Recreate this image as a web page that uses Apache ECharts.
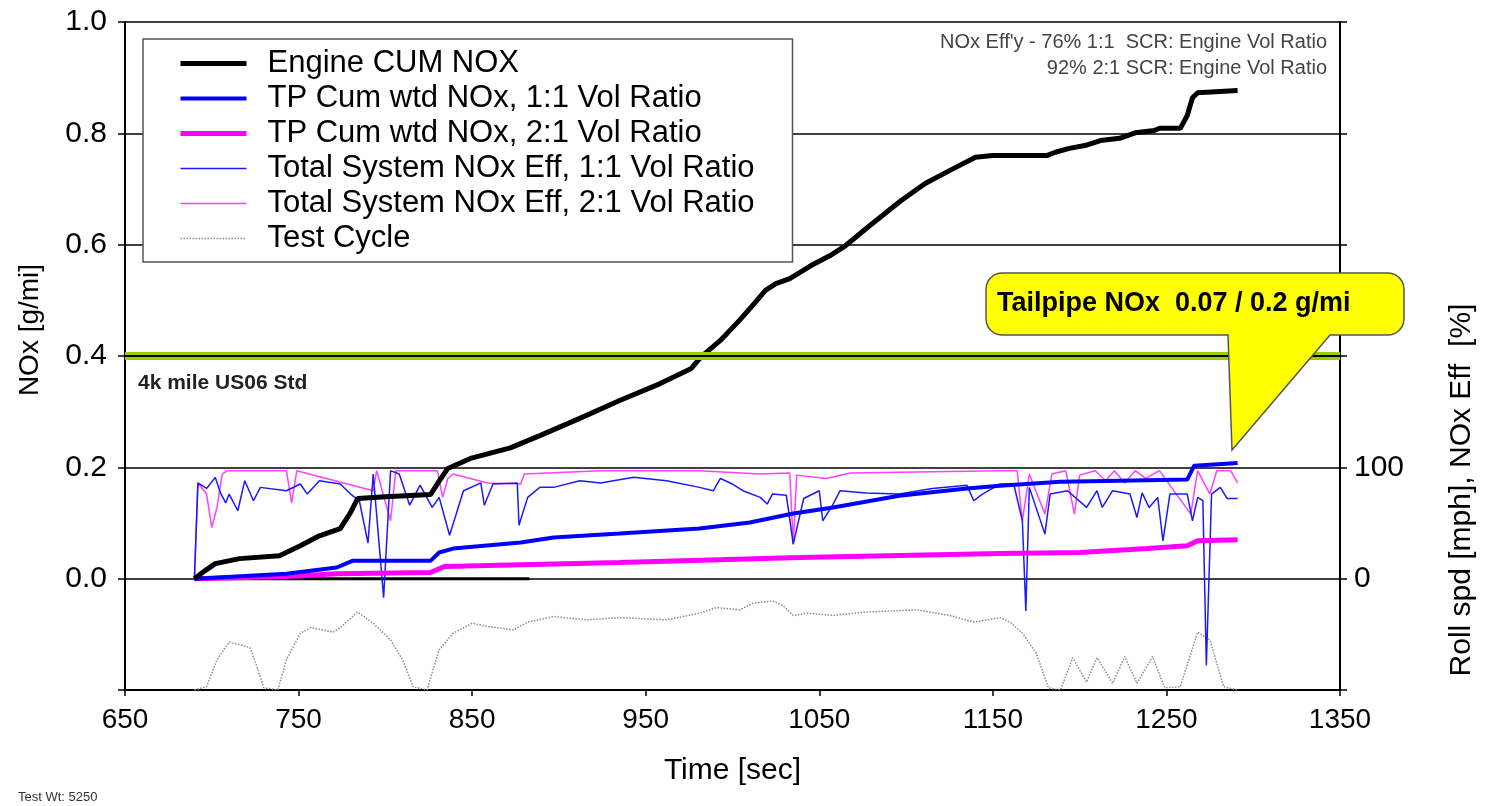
<!DOCTYPE html>
<html>
<head>
<meta charset="utf-8">
<script src="https://cdn.jsdelivr.net/npm/echarts@6/dist/echarts.min.js"></script>
<style>
  body { margin: 0; background: #fff; }
  #main { width: 1488px; height: 806px; }
</style>
</head>
<body>
<div id="main"></div>
<script>
// data: [time sec, value]
var engineCumNox = [[690,0],[696,0.014],[702,0.027],[716,0.036],[739,0.041],[751,0.059],[762,0.077],[774,0.090],[780,0.119],[784,0.144],[800,0.147],[826,0.151],[832,0.180],[836,0.198],[849,0.216],[872,0.235],[889,0.257],[912,0.288],[935,0.320],[958,0.350],[976,0.377],[982,0.399],[993,0.428],[1004,0.464],[1013,0.496],[1019,0.518],[1025,0.530],[1033,0.539],[1045,0.562],[1056,0.580],[1065,0.598],[1079,0.634],[1097,0.679],[1111,0.710],[1125,0.733],[1140,0.757],[1150,0.760],[1181,0.760],[1186,0.766],[1194,0.773],[1203,0.778],[1212,0.787],[1223,0.791],[1232,0.801],[1243,0.805],[1246,0.809],[1258,0.809],[1262,0.832],[1265,0.864],[1268,0.873],[1291,0.877]];

var tpCum11 = [[690,0],[743,0.009],[772,0.020],[781,0.032],[826,0.032],[831,0.047],[839,0.054],[878,0.065],[897,0.074],[935,0.081],[981,0.090],[1010,0.101],[1035,0.117],[1058,0.128],[1096,0.149],[1135,0.162],[1154,0.167],[1189,0.174],[1223,0.176],[1262,0.178],[1266,0.203],[1291,0.208]];

var tpCum21 = [[690,0],[743,0.004],[772,0.009],[826,0.011],[834,0.022],[935,0.029],[1039,0.038],[1154,0.045],[1200,0.047],[1239,0.054],[1262,0.059],[1268,0.068],[1291,0.070]];

// efficiency in %
var eff11 = [[690,0],[692,86],[697,81],[702,91],[705,77],[708,68],[710,76],[715,61],[719,88],[724,70],[728,82],[743,79],[751,85],[755,76],[762,88],[774,85],[780,76],[785,70],[790,32],[793,94],[799,-17],[803,97],[808,94],[814,66],[820,84],[827,64],[831,73],[837,39],[845,79],[855,86],[857,66],[862,85],[876,86],[877,48],[882,73],[889,82],[897,82],[912,88],[924,86],[943,91],[962,88],[981,82],[989,79],[993,90],[1000,85],[1006,79],[1016,73],[1020,67],[1023,76],[1031,75],[1035,31],[1041,72],[1050,79],[1052,52],[1058,67],[1062,79],[1077,77],[1096,76],[1115,81],[1135,84],[1139,70],[1144,76],[1154,85],[1162,85],[1167,52],[1169,-29],[1171,82],[1180,40],[1183,76],[1193,79],[1204,64],[1210,79],[1213,64],[1219,79],[1229,76],[1233,55],[1236,77],[1240,64],[1245,73],[1248,34],[1252,76],[1262,76],[1265,52],[1268,73],[1271,70],[1273,-78],[1276,76],[1281,82],[1285,72],[1291,72]];

var eff21 = [[690,0],[692,86],[697,76],[700,46],[703,64],[706,94],[709,97],[743,97],[746,68],[749,97],[793,79],[795,97],[803,52],[806,97],[830,97],[833,73],[836,90],[839,94],[859,86],[878,85],[880,94],[924,97],[981,97],[1016,94],[1033,95],[1035,31],[1037,93],[1054,90],[1068,95],[1154,97],[1164,97],[1167,52],[1171,94],[1180,58],[1184,94],[1192,97],[1197,58],[1200,93],[1209,97],[1215,88],[1220,97],[1226,86],[1232,97],[1238,90],[1246,97],[1264,58],[1268,97],[1275,76],[1279,97],[1287,97],[1291,86]];

// roll speed in mph
var testCycle = [[690,0],[697,3],[703,27],[710,43],[718,40],[722,38],[726,21],[730,2],[738,0],[743,27],[751,51],[757,56],[770,52],[774,56],[784,70],[793,60],[803,45],[810,27],[816,3],[824,0],[831,36],[839,51],[850,60],[859,57],[874,54],[882,61],[897,66],[916,63],[935,65],[962,63],[981,69],[991,74],[1004,72],[1012,78],[1023,80],[1029,76],[1035,67],[1043,69],[1058,67],[1077,70],[1106,72],[1125,67],[1139,61],[1154,65],[1160,61],[1167,51],[1175,33],[1182,2],[1189,0],[1196,29],[1204,7],[1210,29],[1219,6],[1226,30],[1233,6],[1242,30],[1249,2],[1258,3],[1268,52],[1275,45],[1283,3],[1291,0]];

var zeroRef = [[690,0],[883,0]];
var us06Std = 0.4;
var leftTickLabels = [0, 0.2, 0.4, 0.6, 0.8, 1.0];
var rightTickLabels = [0, 100];

var FONT = '"Liberation Sans", Arial, sans-serif';

var chart = echarts.init(document.getElementById('main'));

// callout outline: rounded box with a pointer
function calloutPoints(x, y, w, h, r, pr, tip, pl) {
  var pts = [];
  function arc(cx, cy, a0, a1) {
    for (var i = 0; i <= 6; i++) {
      var a = (a0 + (a1 - a0) * i / 6) * Math.PI / 180;
      pts.push([cx + r * Math.cos(a), cy + r * Math.sin(a)]);
    }
  }
  arc(x + w - r, y + r, -90, 0);
  arc(x + w - r, y + h - r, 0, 90);
  pts.push([pr, y + h], tip, [pl, y + h]);
  arc(x + r, y + h - r, 90, 180);
  arc(x + r, y + r, 180, 270);
  return pts;
}

option = {
  animation: false,
  backgroundColor: '#fff',
  textStyle: { fontFamily: FONT },
  grid: { left: 125, right: 148, top: 22, bottom: 116 },
  legend: {
    left: 143,
    top: 39,
    orient: 'vertical',
    padding: [9, 15, 8, 35],
    backgroundColor: '#fff',
    borderColor: '#555',
    borderWidth: 1.5,
    itemWidth: 66,
    itemHeight: 14,
    itemGap: 4,
    itemStyle: { opacity: 0 },
    lineStyle: { width: 'inherit' },
    textStyle: { fontSize: 31, lineHeight: 31, color: '#000', fontFamily: FONT, width: 510, padding: [0, 0, 0, 16] },
    data: ['Engine CUM NOX', 'TP Cum wtd NOx, 1:1 Vol Ratio', 'TP Cum wtd NOx, 2:1 Vol Ratio',
      'Total System NOx Eff, 1:1 Vol Ratio', 'Total System NOx Eff, 2:1 Vol Ratio', 'Test Cycle']
  },
  xAxis: {
    type: 'value',
    min: 650,
    max: 1350,
    interval: 100,
    name: 'Time [sec]',
    nameLocation: 'middle',
    nameGap: 66,
    nameTextStyle: { fontSize: 30, color: '#000' },
    axisLine: { onZero: false, lineStyle: { color: '#000', width: 2 } },
    axisTick: { length: 6, lineStyle: { color: '#000', width: 1.5 } },
    axisLabel: { fontSize: 28, color: '#000', margin: 16, formatter: function (v) { return String(v); } },
    splitLine: { show: false }
  },
  yAxis: [
    {
      type: 'value',
      min: -0.2,
      max: 1.0,
      interval: 0.2,
      axisLine: { show: true, lineStyle: { color: '#000', width: 2 } },
      axisTick: { show: true, length: 7, lineStyle: { color: '#000', width: 1.5 } },
      axisLabel: {
        fontSize: 30, color: '#000', margin: 18,
        formatter: function (v) {
          var hit = leftTickLabels.some(function (t) { return Math.abs(t - v) < 1e-6; });
          return hit ? v.toFixed(1) : '';
        }
      },
      splitLine: { show: true, lineStyle: { color: '#000', width: 1.5 } }
    },
    {
      type: 'value',
      position: 'right',
      min: -100,
      max: 500,
      interval: 100,
      axisLine: { show: true, lineStyle: { color: '#000', width: 2 } },
      axisTick: { show: true, length: 7, lineStyle: { color: '#000', width: 1.5 } },
      axisLabel: {
        fontSize: 30, color: '#000', margin: 14,
        formatter: function (v) { return rightTickLabels.indexOf(v) >= 0 ? String(v) : ''; }
      },
      splitLine: { show: false }
    },
    { type: 'value', min: 0, max: 600, show: false }
  ],
  series: [
    {
      name: 'zero',
      type: 'line',
      data: zeroRef,
      symbol: 'none',
      lineStyle: { color: '#000', width: 3 },
      silent: true,
      markLine: {
        silent: true,
        symbol: 'none',
        label: { show: false },
        data: [
          { yAxis: us06Std, lineStyle: { color: '#9acd00', width: 8, type: 'solid' } },
          { yAxis: us06Std, lineStyle: { color: '#000', width: 2, type: 'solid' } }
        ]
      }
    },
    {
      name: 'Test Cycle',
      type: 'line',
      yAxisIndex: 2,
      data: testCycle,
      symbol: 'none',
      lineStyle: { color: '#8c8c8c', width: 1.5, type: 'dotted' },
      itemStyle: { color: '#8c8c8c' }
    },
    {
      name: 'Total System NOx Eff, 2:1 Vol Ratio',
      type: 'line',
      yAxisIndex: 1,
      data: eff21,
      symbol: 'none',
      lineStyle: { color: '#ff40ff', width: 1.5 },
      itemStyle: { color: '#ff40ff' }
    },
    {
      name: 'Total System NOx Eff, 1:1 Vol Ratio',
      type: 'line',
      yAxisIndex: 1,
      data: eff11,
      symbol: 'none',
      lineStyle: { color: '#1a1aff', width: 1.5 },
      itemStyle: { color: '#1a1aff' }
    },
    {
      name: 'TP Cum wtd NOx, 2:1 Vol Ratio',
      type: 'line',
      data: tpCum21,
      symbol: 'none',
      lineStyle: { color: '#ff00ff', width: 5 },
      itemStyle: { color: '#ff00ff' }
    },
    {
      name: 'TP Cum wtd NOx, 1:1 Vol Ratio',
      type: 'line',
      data: tpCum11,
      symbol: 'none',
      lineStyle: { color: '#0000ff', width: 4 },
      itemStyle: { color: '#0000ff' }
    },
    {
      name: 'Engine CUM NOX',
      type: 'line',
      data: engineCumNox,
      symbol: 'none',
      lineStyle: { color: '#000', width: 5 },
      itemStyle: { color: '#000' }
    }
  ],
  graphic: [
    {
      type: 'text', x: 30, y: 330, rotation: Math.PI / 2,
      style: { text: 'NOx [g/mi]', font: '28px ' + FONT, fill: '#000', align: 'center', verticalAlign: 'middle' }
    },
    {
      type: 'text', x: 1462, y: 490, rotation: Math.PI / 2,
      style: { text: 'Roll spd [mph], NOx Eff  [%]', font: '30px ' + FONT, fill: '#000', align: 'center', verticalAlign: 'middle' }
    },
    {
      type: 'text', x: 1327, y: 42,
      style: { text: "NOx Eff'y - 76% 1:1  SCR: Engine Vol Ratio", font: '20px ' + FONT, fill: '#444', align: 'right', verticalAlign: 'middle' }
    },
    {
      type: 'text', x: 1327, y: 68,
      style: { text: '92% 2:1 SCR: Engine Vol Ratio', font: '20px ' + FONT, fill: '#444', align: 'right', verticalAlign: 'middle' }
    },
    {
      type: 'text', x: 138, y: 383,
      style: { text: '4k mile US06 Std', font: 'bold 21px ' + FONT, fill: '#222', align: 'left', verticalAlign: 'middle' }
    },
    {
      type: 'polygon', z: 100,
      shape: { points: calloutPoints(986, 273, 418, 62, 16, 1330, [1232, 450], 1228) },
      style: { fill: '#ffff00', stroke: '#555', lineWidth: 1.5 }
    },
    {
      type: 'text', x: 997, y: 304, z: 101,
      style: { text: 'Tailpipe NOx  0.07 / 0.2 g/mi', font: 'bold 27px ' + FONT, fill: '#000', align: 'left', verticalAlign: 'middle' }
    },
    {
      type: 'text', x: 18, y: 797,
      style: { text: 'Test Wt: 5250', font: '13px ' + FONT, fill: '#333', align: 'left', verticalAlign: 'middle' }
    }
  ]
};

chart.setOption(option);
</script>
</body>
</html>
